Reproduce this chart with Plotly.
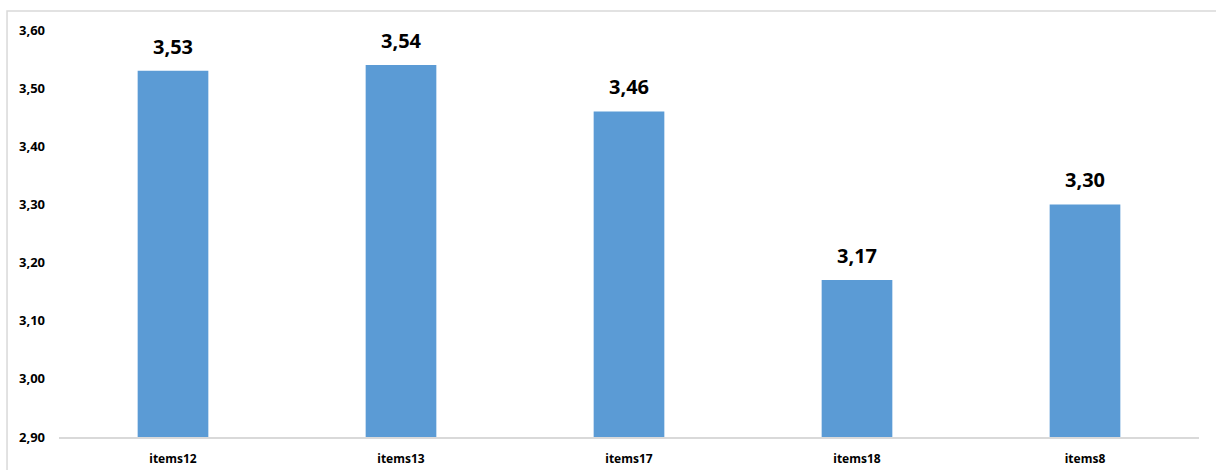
import plotly.graph_objects as go

categories = ["items12", "items13", "items17", "items18", "items8"]
values = [3.53, 3.54, 3.46, 3.17, 3.30]
y_ticks = [2.90, 3.00, 3.10, 3.20, 3.30, 3.40, 3.50, 3.60]

fig = go.Figure()
fig.add_trace(go.Bar(
    x=categories, y=values, width=0.31,
    marker=dict(color="#5B9BD5", line=dict(width=0)),
    hoverinfo="skip",
))

for c, v in zip(categories, values):
    fig.add_annotation(
        x=c, y=v, text=f"{v:.2f}".replace(".", ","), showarrow=False,
        yanchor="bottom", yshift=9,
        font=dict(family="Noto Sans", size=20, color="#000000", weight="bold"),
    )

fig.add_shape(
    type="rect", xref="paper", yref="paper",
    x0=-0.0456, x1=1.2, y0=-0.3, y1=1.0467,
    line=dict(color="#D9D9D9", width=1.5), fillcolor="rgba(0,0,0,0)",
    layer="below",
)

fig.update_layout(
    width=1216, height=470,
    margin=dict(l=59, r=17, t=30, b=33, autoexpand=False),
    paper_bgcolor="white", plot_bgcolor="white",
    separators=",.",
    showlegend=False,
    bargap=0.69,
    font=dict(family="Noto Sans", color="#000000"),
)
fig.update_xaxes(
    showgrid=False, showline=True, linecolor="#D9D9D9", linewidth=1.5,
    ticks="", tickfont=dict(size=12, weight="bold", color="#000000"),
    ticklabelstandoff=10, automargin=False,
)
fig.update_yaxes(
    range=[2.90, 3.60], tickvals=y_ticks, tickformat=".2f",
    showgrid=False, zeroline=False, showline=False, ticks="",
    tickfont=dict(size=13, weight="bold", color="#000000"),
    ticklabelstandoff=13, automargin=False,
)

fig.write_html(
    "out.html",
    config={"displayModeBar": False},
    post_script="document.body.style.margin='0px';document.body.style.overflow='hidden';",
)
